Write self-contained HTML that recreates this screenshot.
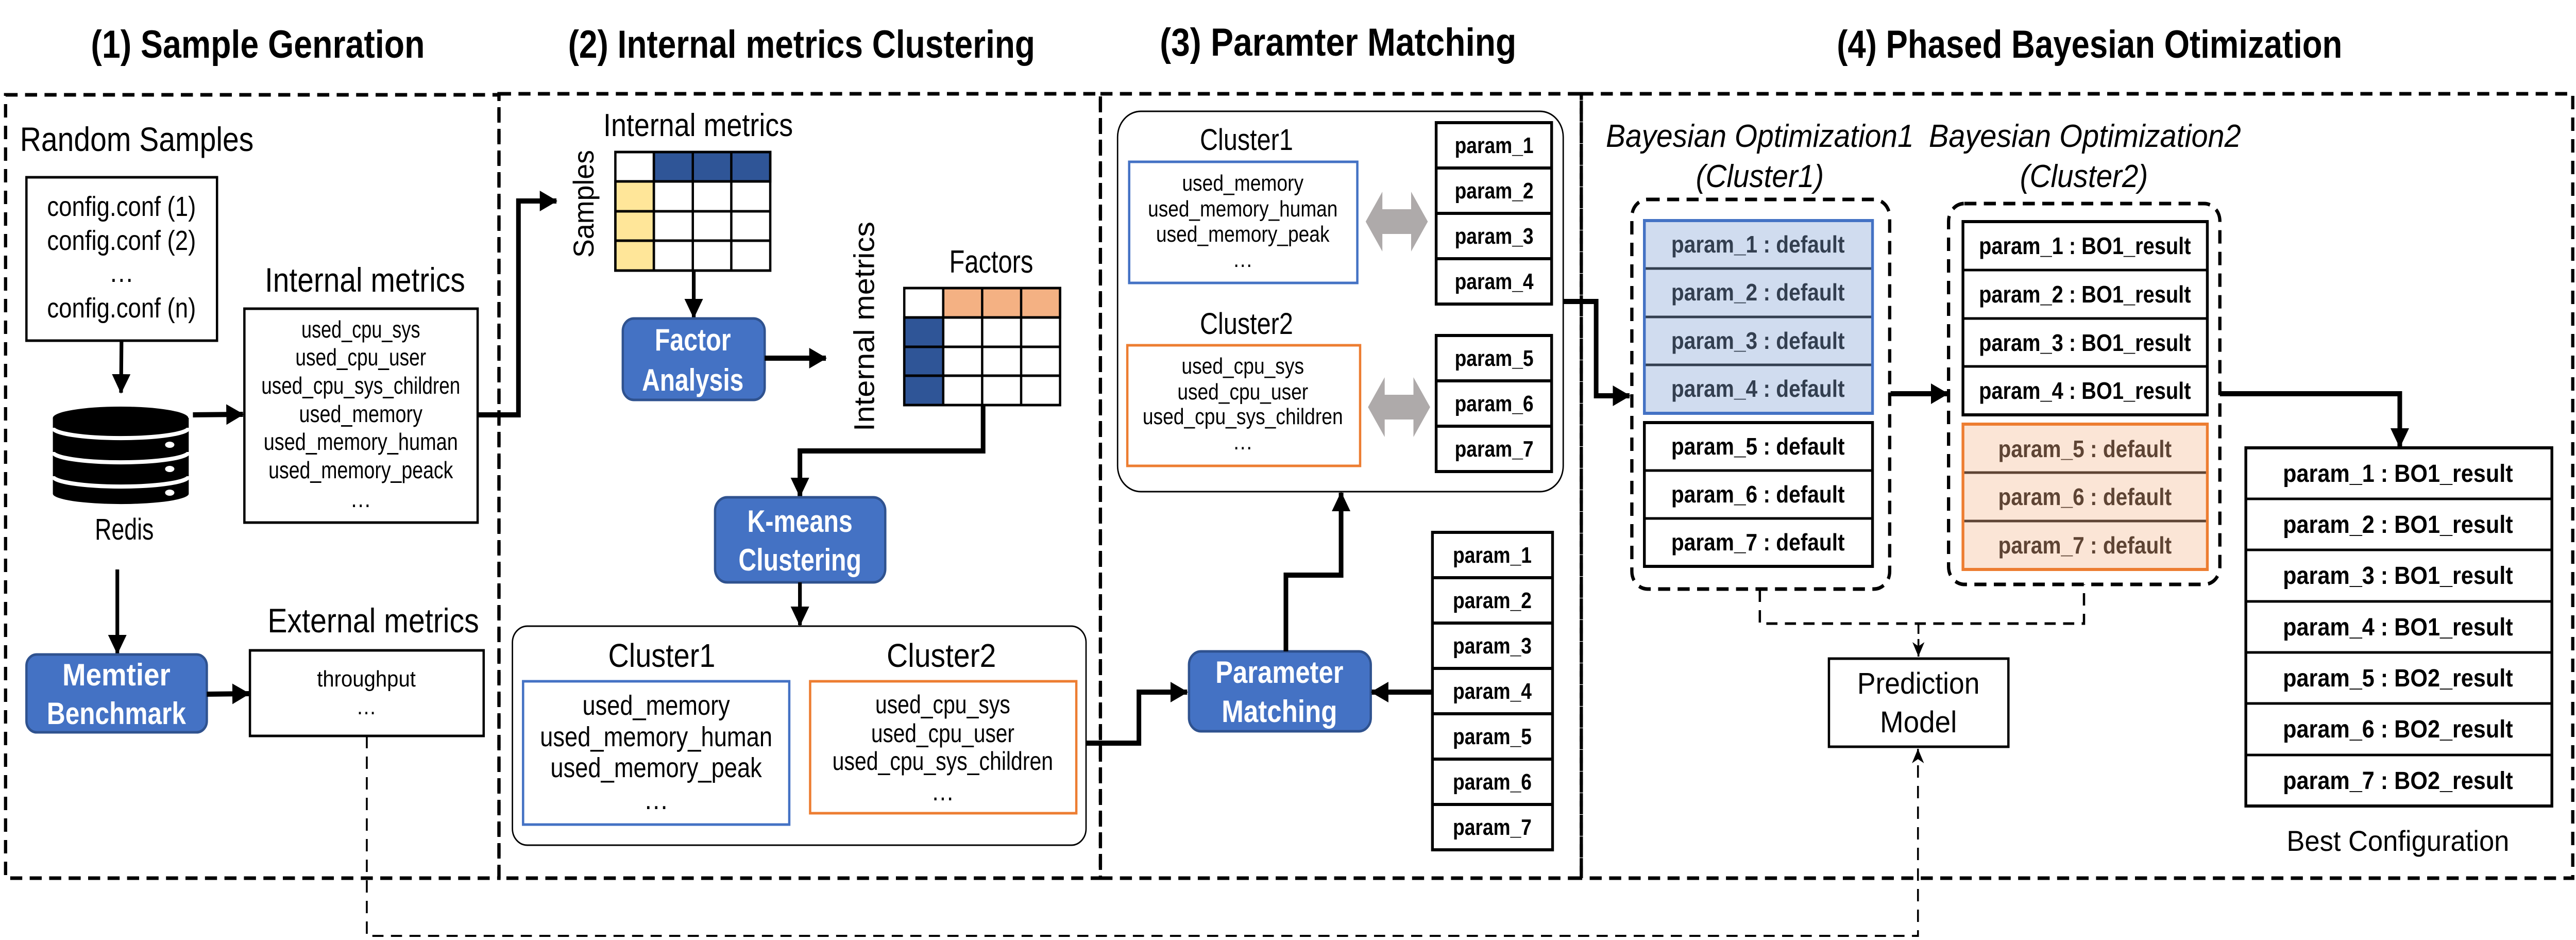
<!DOCTYPE html>
<html><head><meta charset="utf-8"><style>
html,body{margin:0;padding:0;background:#fff;overflow:hidden;width:100%;height:100%;}
svg{display:block;position:absolute;left:0;top:0;width:100vw;height:100vh;}
text{font-family:"Liberation Sans",sans-serif;}
</style></head><body>
<svg viewBox="0 0 5555 1824" preserveAspectRatio="none" xmlns="http://www.w3.org/2000/svg">
<defs>
<marker id="ah" markerUnits="userSpaceOnUse" markerWidth="40" markerHeight="40" refX="36" refY="20" orient="auto"><path d="M0,0 L38,20 L0,40 Z" fill="#000"/></marker>
<marker id="ahs" markerUnits="userSpaceOnUse" markerWidth="30" markerHeight="30" refX="28" refY="15" orient="auto"><path d="M0,2 L28,15 L0,28 L8,15 Z" fill="#000"/></marker>
</defs>
<rect width="5555" height="1824" fill="#fff"/>

<g font-weight="bold" font-size="76">
<text x="196" y="112" textLength="720" lengthAdjust="spacingAndGlyphs">(1) Sample Genration</text>
<text x="1225" y="112" textLength="1007" lengthAdjust="spacingAndGlyphs">(2) Internal metrics Clustering</text>
<text x="2501" y="108" textLength="769" lengthAdjust="spacingAndGlyphs">(3) Paramter Matching</text>
<text x="3961" y="112" textLength="1090" lengthAdjust="spacingAndGlyphs">(4) Phased Bayesian Otimization</text>
</g>

<g fill="none" stroke="#000" stroke-width="7" stroke-dasharray="26,16">
<rect x="12" y="184" width="1064" height="1520"/>
<rect x="1076" y="182" width="1297" height="1522"/>
<rect x="2373" y="182" width="1037" height="1522"/>
<rect x="3410" y="182" width="2138" height="1522"/>
</g>

<text x="43" y="293" font-size="66" textLength="504" lengthAdjust="spacingAndGlyphs">Random Samples</text>
<rect x="57" y="344" width="411" height="317" fill="none" stroke="#000" stroke-width="5"/>
<g font-size="54" text-anchor="middle">
<text x="262" y="419" textLength="321" lengthAdjust="spacingAndGlyphs">config.conf (1)</text>
<text x="262" y="485" textLength="321" lengthAdjust="spacingAndGlyphs">config.conf (2)</text>
<text x="262" y="547">…</text>
<text x="262" y="616" textLength="321" lengthAdjust="spacingAndGlyphs">config.conf (n)</text>
</g>
<line x1="262" y1="661" x2="261" y2="762" stroke="#000" stroke-width="8" marker-end="url(#ah)"/>
<g>
<path d="M114,811 L114,958 A146,20 0 0 0 407,958 L407,811 Z" fill="#000"/>
<ellipse cx="260" cy="811" rx="146" ry="22" fill="#000"/>
<path d="M114,830 A146,20 0 0 0 407,830" fill="none" stroke="#fff" stroke-width="8"/>
<path d="M114,877 A146,20 0 0 0 407,877" fill="none" stroke="#fff" stroke-width="8"/>
<path d="M114,924 A146,20 0 0 0 407,924" fill="none" stroke="#fff" stroke-width="8"/>
<ellipse cx="366" cy="863" rx="10" ry="6" fill="#fff"/>
<ellipse cx="366" cy="910" rx="10" ry="6" fill="#fff"/>
<ellipse cx="366" cy="956" rx="10" ry="6" fill="#fff"/>
</g>
<text x="268" y="1047" font-size="58" text-anchor="middle" textLength="127" lengthAdjust="spacingAndGlyphs">Redis</text>
<line x1="416" y1="805" x2="524" y2="804" stroke="#000" stroke-width="10" marker-end="url(#ah)"/>
<text x="571" y="566" font-size="66" textLength="432" lengthAdjust="spacingAndGlyphs">Internal metrics</text>
<rect x="527" y="599" width="503" height="415" fill="none" stroke="#000" stroke-width="5"/>
<g font-size="46" text-anchor="middle">
<text x="778" y="655" textLength="256" lengthAdjust="spacingAndGlyphs">used_cpu_sys</text>
<text x="778" y="709" textLength="282" lengthAdjust="spacingAndGlyphs">used_cpu_user</text>
<text x="778" y="764" textLength="429" lengthAdjust="spacingAndGlyphs">used_cpu_sys_children</text>
<text x="778" y="819" textLength="266" lengthAdjust="spacingAndGlyphs">used_memory</text>
<text x="778" y="873" textLength="419" lengthAdjust="spacingAndGlyphs">used_memory_human</text>
<text x="778" y="928" textLength="398" lengthAdjust="spacingAndGlyphs">used_memory_peack</text>
<text x="778" y="984">…</text>
</g>
<line x1="253" y1="1105" x2="253" y2="1268" stroke="#000" stroke-width="8" marker-end="url(#ah)"/>
<rect x="57" y="1270" width="389" height="151" rx="22" fill="#4472C4" stroke="#2F528F" stroke-width="5"/>
<g font-size="60" font-weight="bold" fill="#fff" text-anchor="middle">
<text x="251" y="1330" textLength="233" lengthAdjust="spacingAndGlyphs">Memtier</text>
<text x="251" y="1405" textLength="300" lengthAdjust="spacingAndGlyphs">Benchmark</text>
</g>
<line x1="446" y1="1347" x2="537" y2="1346" stroke="#000" stroke-width="10" marker-end="url(#ah)"/>
<text x="577" y="1227" font-size="66" textLength="456" lengthAdjust="spacingAndGlyphs">External metrics</text>
<rect x="539" y="1262" width="504" height="166" fill="none" stroke="#000" stroke-width="5"/>
<text x="790" y="1332" font-size="44" text-anchor="middle" textLength="213" lengthAdjust="spacingAndGlyphs">throughput</text>
<text x="790" y="1386" font-size="44" text-anchor="middle">…</text>

<path d="M791,1428 L791,1816 L4136,1816 L4136,1453" fill="none" stroke="#000" stroke-width="4" stroke-dasharray="24,16" marker-end="url(#ahs)"/>

<path d="M1030,805 L1118,805 L1118,390 L1200,390" fill="none" stroke="#000" stroke-width="10" marker-end="url(#ah)"/>

<text x="1301" y="264" font-size="62" textLength="409" lengthAdjust="spacingAndGlyphs">Internal metrics</text>
<text transform="translate(1280,500) rotate(-90)" font-size="62" textLength="209" lengthAdjust="spacingAndGlyphs">Samples</text>
<g stroke="#000" stroke-width="5">
<rect x="1410" y="295" width="251" height="57" fill="#2F5597"/>
<rect x="1327" y="352" width="83" height="173" fill="#FFE699"/>
<rect x="1327" y="295" width="334" height="230" fill="none"/>
<path d="M1410,295 V525 M1494,295 V525 M1577,295 V525 M1327,352 H1661 M1327,410 H1661 M1327,467 H1661" fill="none"/>
</g>
<line x1="1496" y1="525" x2="1496" y2="616" stroke="#000" stroke-width="8" marker-end="url(#ah)"/>
<rect x="1343" y="618" width="306" height="158" rx="24" fill="#4472C4" stroke="#2F528F" stroke-width="5"/>
<g font-size="60" font-weight="bold" fill="#fff" text-anchor="middle">
<text x="1494" y="680" textLength="164" lengthAdjust="spacingAndGlyphs">Factor</text>
<text x="1494" y="758" textLength="219" lengthAdjust="spacingAndGlyphs">Analysis</text>
</g>
<line x1="1649" y1="695" x2="1781" y2="695" stroke="#000" stroke-width="10" marker-end="url(#ah)"/>
<text transform="translate(1885,837) rotate(-90)" font-size="62" textLength="407" lengthAdjust="spacingAndGlyphs">Internal metrics</text>
<text x="2047" y="529" font-size="62" textLength="181" lengthAdjust="spacingAndGlyphs">Factors</text>
<g stroke="#000" stroke-width="5">
<rect x="2034" y="559" width="252" height="57" fill="#F4B183"/>
<rect x="1950" y="616" width="84" height="170" fill="#2F5597"/>
<rect x="1950" y="559" width="336" height="227" fill="none"/>
<path d="M2034,559 V786 M2118,559 V786 M2202,559 V786 M1950,616 H2286 M1950,673 H2286 M1950,729 H2286" fill="none"/>
</g>
<path d="M2120,786 L2120,875 L1725,875 L1725,963" fill="none" stroke="#000" stroke-width="10" marker-end="url(#ah)"/>
<rect x="1542" y="965" width="367" height="165" rx="26" fill="#4472C4" stroke="#2F528F" stroke-width="5"/>
<g font-size="60" font-weight="bold" fill="#fff" text-anchor="middle">
<text x="1725" y="1032" textLength="227" lengthAdjust="spacingAndGlyphs">K-means</text>
<text x="1725" y="1107" textLength="265" lengthAdjust="spacingAndGlyphs">Clustering</text>
</g>
<line x1="1725" y1="1130" x2="1725" y2="1213" stroke="#000" stroke-width="8" marker-end="url(#ah)"/>
<rect x="1105" y="1215" width="1237" height="425" rx="32" fill="none" stroke="#000" stroke-width="3"/>
<text x="1427" y="1294" font-size="64" text-anchor="middle" textLength="231" lengthAdjust="spacingAndGlyphs">Cluster1</text>
<text x="2030" y="1294" font-size="64" text-anchor="middle" textLength="236" lengthAdjust="spacingAndGlyphs">Cluster2</text>
<rect x="1128" y="1322" width="574" height="278" fill="none" stroke="#4472C4" stroke-width="5"/>
<rect x="1747" y="1322" width="574" height="256" fill="none" stroke="#ED7D31" stroke-width="5"/>
<g font-size="54" text-anchor="middle">
<text x="1415" y="1387" textLength="318" lengthAdjust="spacingAndGlyphs">used_memory</text>
<text x="1415" y="1448" textLength="501" lengthAdjust="spacingAndGlyphs">used_memory_human</text>
<text x="1415" y="1508" textLength="456" lengthAdjust="spacingAndGlyphs">used_memory_peak</text>
<text x="1415" y="1570">…</text>
</g>
<g font-size="50" text-anchor="middle">
<text x="2033" y="1384" textLength="291" lengthAdjust="spacingAndGlyphs">used_cpu_sys</text>
<text x="2033" y="1440" textLength="309" lengthAdjust="spacingAndGlyphs">used_cpu_user</text>
<text x="2033" y="1494" textLength="476" lengthAdjust="spacingAndGlyphs">used_cpu_sys_children</text>
<text x="2033" y="1553">…</text>
</g>
<path d="M2342,1442 L2456,1442 L2456,1343 L2560,1343" fill="none" stroke="#000" stroke-width="10" marker-end="url(#ah)"/>

<rect x="2410" y="216" width="961" height="738" rx="50" fill="none" stroke="#000" stroke-width="3"/>
<text x="2688" y="291" font-size="58" text-anchor="middle" textLength="201" lengthAdjust="spacingAndGlyphs">Cluster1</text>
<rect x="2435" y="314" width="492" height="235" fill="none" stroke="#4472C4" stroke-width="5"/>
<g font-size="44" text-anchor="middle">
<text x="2680" y="370" textLength="262" lengthAdjust="spacingAndGlyphs">used_memory</text>
<text x="2680" y="420" textLength="409" lengthAdjust="spacingAndGlyphs">used_memory_human</text>
<text x="2680" y="469" textLength="374" lengthAdjust="spacingAndGlyphs">used_memory_peak</text>
<text x="2680" y="518">…</text>
</g>
<text x="2688" y="648" font-size="58" text-anchor="middle" textLength="201" lengthAdjust="spacingAndGlyphs">Cluster2</text>
<rect x="2431" y="670" width="502" height="234" fill="none" stroke="#ED7D31" stroke-width="5"/>
<g font-size="44" text-anchor="middle">
<text x="2680" y="725" textLength="264" lengthAdjust="spacingAndGlyphs">used_cpu_sys</text>
<text x="2680" y="775" textLength="282" lengthAdjust="spacingAndGlyphs">used_cpu_user</text>
<text x="2680" y="823" textLength="432" lengthAdjust="spacingAndGlyphs">used_cpu_sys_children</text>
<text x="2680" y="872">…</text>
</g>
<g fill="#AEAAAA">
<path d="M2945,430 L2981,372 L2981,406 L3043,406 L3043,372 L3079,430 L3043,488 L3043,454 L2981,454 L2981,488 Z"/>
<path d="M2950,790 L2986,732 L2986,766 L3048,766 L3048,732 L3084,790 L3048,848 L3048,814 L2986,814 L2986,848 Z"/>
</g>
<g stroke="#000" stroke-width="6" fill="none">
<rect x="3097" y="238" width="249" height="352"/>
<path d="M3097,326 H3346 M3097,414 H3346 M3097,502 H3346"/>
<rect x="3097" y="651" width="249" height="264"/>
<path d="M3097,739 H3346 M3097,827 H3346"/>
<rect x="3089" y="1033" width="259" height="616"/>
<path d="M3089,1121 H3348 M3089,1209 H3348 M3089,1297 H3348 M3089,1385 H3348 M3089,1473 H3348 M3089,1561 H3348"/>
</g>
<g font-size="44" font-weight="bold">
<text x="3137" y="297" textLength="170" lengthAdjust="spacingAndGlyphs">param_1</text>
<text x="3137" y="385" textLength="170" lengthAdjust="spacingAndGlyphs">param_2</text>
<text x="3137" y="473" textLength="170" lengthAdjust="spacingAndGlyphs">param_3</text>
<text x="3137" y="561" textLength="170" lengthAdjust="spacingAndGlyphs">param_4</text>
<text x="3137" y="710" textLength="170" lengthAdjust="spacingAndGlyphs">param_5</text>
<text x="3137" y="798" textLength="170" lengthAdjust="spacingAndGlyphs">param_6</text>
<text x="3137" y="886" textLength="170" lengthAdjust="spacingAndGlyphs">param_7</text>
<text x="3133" y="1092" textLength="170" lengthAdjust="spacingAndGlyphs">param_1</text>
<text x="3133" y="1180" textLength="170" lengthAdjust="spacingAndGlyphs">param_2</text>
<text x="3133" y="1268" textLength="170" lengthAdjust="spacingAndGlyphs">param_3</text>
<text x="3133" y="1356" textLength="170" lengthAdjust="spacingAndGlyphs">param_4</text>
<text x="3133" y="1444" textLength="170" lengthAdjust="spacingAndGlyphs">param_5</text>
<text x="3133" y="1532" textLength="170" lengthAdjust="spacingAndGlyphs">param_6</text>
<text x="3133" y="1620" textLength="170" lengthAdjust="spacingAndGlyphs">param_7</text>
</g>
<rect x="2564" y="1264" width="392" height="155" rx="26" fill="#4472C4" stroke="#2F528F" stroke-width="5"/>
<g font-size="60" font-weight="bold" fill="#fff" text-anchor="middle">
<text x="2759" y="1325" textLength="276" lengthAdjust="spacingAndGlyphs">Parameter</text>
<text x="2759" y="1401" textLength="249" lengthAdjust="spacingAndGlyphs">Matching</text>
</g>
<line x1="3089" y1="1343" x2="2958" y2="1343" stroke="#000" stroke-width="10" marker-end="url(#ah)"/>
<path d="M2773,1264 L2773,1116 L2892,1116 L2892,956" fill="none" stroke="#000" stroke-width="10" marker-end="url(#ah)"/>
<path d="M3371,585 L3442,585 L3442,768 L3514,768" fill="none" stroke="#000" stroke-width="10" marker-end="url(#ah)"/>

<g font-size="62" font-style="italic" text-anchor="middle">
<text x="3795" y="285" textLength="664" lengthAdjust="spacingAndGlyphs">Bayesian Optimization1</text>
<text x="3795" y="363" textLength="276" lengthAdjust="spacingAndGlyphs">(Cluster1)</text>
<text x="4496" y="285" textLength="673" lengthAdjust="spacingAndGlyphs">Bayesian Optimization2</text>
<text x="4494" y="363" textLength="276" lengthAdjust="spacingAndGlyphs">(Cluster2)</text>
</g>
<rect x="3519" y="387" width="556" height="756" rx="34" fill="none" stroke="#000" stroke-width="7" stroke-dasharray="26,16"/>
<rect x="4202" y="395" width="585" height="739" rx="34" fill="none" stroke="#000" stroke-width="7" stroke-dasharray="26,16"/>
<rect x="3546" y="428" width="492" height="374" fill="#D0DCEF"/>
<path d="M3546,521 H4038 M3546,615 H4038 M3546,708 H4038" stroke="#333F50" stroke-width="5"/>
<rect x="3546" y="428" width="492" height="374" fill="none" stroke="#4472C4" stroke-width="6"/>
<rect x="3546" y="820" width="492" height="279" fill="none" stroke="#000" stroke-width="6"/>
<path d="M3546,913 H4038 M3546,1006 H4038" stroke="#000" stroke-width="5"/>
<g font-size="46" font-weight="bold" text-anchor="middle">
<g fill="#333F50">
<text x="3791" y="490" textLength="374" lengthAdjust="spacingAndGlyphs">param_1 : default</text>
<text x="3791" y="583" textLength="374" lengthAdjust="spacingAndGlyphs">param_2 : default</text>
<text x="3791" y="677" textLength="374" lengthAdjust="spacingAndGlyphs">param_3 : default</text>
<text x="3791" y="770" textLength="374" lengthAdjust="spacingAndGlyphs">param_4 : default</text>
</g>
<text x="3791" y="882" textLength="374" lengthAdjust="spacingAndGlyphs">param_5 : default</text>
<text x="3791" y="975" textLength="374" lengthAdjust="spacingAndGlyphs">param_6 : default</text>
<text x="3791" y="1068" textLength="374" lengthAdjust="spacingAndGlyphs">param_7 : default</text>
</g>
<line x1="4077" y1="764" x2="4200" y2="764" stroke="#000" stroke-width="10" marker-end="url(#ah)"/>
<rect x="4233" y="430" width="527" height="375" fill="none" stroke="#000" stroke-width="6"/>
<path d="M4233,524 H4760 M4233,618 H4760 M4233,711 H4760" stroke="#000" stroke-width="5"/>
<rect x="4233" y="823" width="527" height="282" fill="#FBE5D6"/>
<path d="M4233,917 H4760 M4233,1011 H4760" stroke="#5E4434" stroke-width="5"/>
<rect x="4233" y="823" width="527" height="282" fill="none" stroke="#ED7D31" stroke-width="6"/>
<g font-size="46" font-weight="bold" text-anchor="middle">
<text x="4496" y="493" textLength="457" lengthAdjust="spacingAndGlyphs">param_1 : BO1_result</text>
<text x="4496" y="587" textLength="457" lengthAdjust="spacingAndGlyphs">param_2 : BO1_result</text>
<text x="4496" y="681" textLength="457" lengthAdjust="spacingAndGlyphs">param_3 : BO1_result</text>
<text x="4496" y="774" textLength="457" lengthAdjust="spacingAndGlyphs">param_4 : BO1_result</text>
<g fill="#5E4434">
<text x="4496" y="887" textLength="374" lengthAdjust="spacingAndGlyphs">param_5 : default</text>
<text x="4496" y="980" textLength="374" lengthAdjust="spacingAndGlyphs">param_6 : default</text>
<text x="4496" y="1074" textLength="374" lengthAdjust="spacingAndGlyphs">param_7 : default</text>
</g>
</g>
<path d="M4787,764 L5175,764 L5175,867" fill="none" stroke="#000" stroke-width="10" marker-end="url(#ah)"/>
<rect x="4843" y="869" width="660" height="695" fill="none" stroke="#000" stroke-width="6"/>
<path d="M4843,968 H5503 M4843,1067 H5503 M4843,1167 H5503 M4843,1266 H5503 M4843,1365 H5503 M4843,1465 H5503" stroke="#000" stroke-width="5"/>
<g font-size="48" font-weight="bold" text-anchor="middle">
<text x="5171" y="935" textLength="496" lengthAdjust="spacingAndGlyphs">param_1 : BO1_result</text>
<text x="5171" y="1034" textLength="496" lengthAdjust="spacingAndGlyphs">param_2 : BO1_result</text>
<text x="5171" y="1133" textLength="496" lengthAdjust="spacingAndGlyphs">param_3 : BO1_result</text>
<text x="5171" y="1233" textLength="496" lengthAdjust="spacingAndGlyphs">param_4 : BO1_result</text>
<text x="5171" y="1332" textLength="496" lengthAdjust="spacingAndGlyphs">param_5 : BO2_result</text>
<text x="5171" y="1431" textLength="496" lengthAdjust="spacingAndGlyphs">param_6 : BO2_result</text>
<text x="5171" y="1531" textLength="496" lengthAdjust="spacingAndGlyphs">param_7 : BO2_result</text>
</g>
<text x="5171" y="1651" font-size="56" text-anchor="middle" textLength="480" lengthAdjust="spacingAndGlyphs">Best Configuration</text>
<path d="M3795,1144 L3795,1210 L4494,1210 L4494,1134" fill="none" stroke="#000" stroke-width="5" stroke-dasharray="24,16"/>
<line x1="4137" y1="1210" x2="4137" y2="1274" stroke="#000" stroke-width="4" stroke-dasharray="20,10" marker-end="url(#ahs)"/>
<rect x="3944" y="1278" width="387" height="171" fill="none" stroke="#000" stroke-width="5"/>
<g font-size="58" text-anchor="middle">
<text x="4137" y="1346" textLength="264" lengthAdjust="spacingAndGlyphs">Prediction</text>
<text x="4137" y="1421" textLength="166" lengthAdjust="spacingAndGlyphs">Model</text>
</g>
</svg>
</body></html>
